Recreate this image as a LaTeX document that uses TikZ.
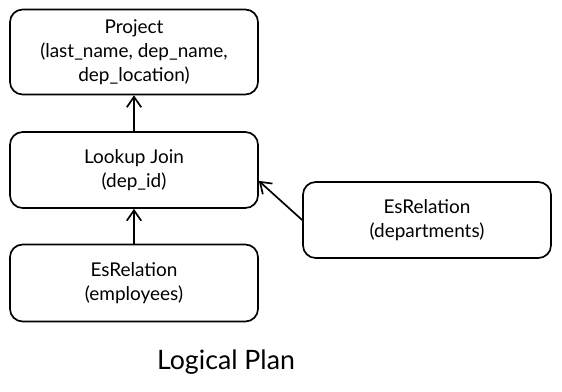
\documentclass[tikz,border=0pt]{standalone}
\usepackage{fontspec}
\setmainfont{Lato}
\usetikzlibrary{arrows.meta,backgrounds}

\begin{document}
\begin{tikzpicture}[
    font=\fontsize{13.5}{17}\selectfont, line width=1.2pt,
    background rectangle/.style={fill=white,draw=none},
    show background rectangle,
    op/.style={draw,fill=white,rounded corners=9pt,align=center,
        minimum width=6.2cm,minimum height=1.9cm},
    arrow/.style={-{Straight Barb[length=2.6mm,width=3.6mm]},line width=1.2pt},
    title/.style={font=\fontsize{19}{22}\selectfont,align=center}
]
\path[use as bounding box] (0,0) rectangle (14.05,-9.775);

\node[op,minimum height=2.125cm] (proj) at (3.35,-1.3)
    {Project\\(last\_name, dep\_name,\\dep\_location)};
\node[op] (look) at (3.35,-4.25) {Lookup Join\\(dep\_id)};
\node[op,minimum height=1.925cm] (emp) at (3.35,-7.075)
    {EsRelation\\(employees)};
\node[op] (dept) at (10.675,-5.5) {EsRelation\\(departments)};
\draw[arrow] (emp.north) -- (look.south);
\draw[arrow] (look.north) -- (proj.south);
% the build side enters the join from the right
\draw[arrow] (dept.west) -- (look.-5);
\node[title] (plan) at (5.65,-9.05) {Logical Plan};
\end{tikzpicture}
\end{document}
